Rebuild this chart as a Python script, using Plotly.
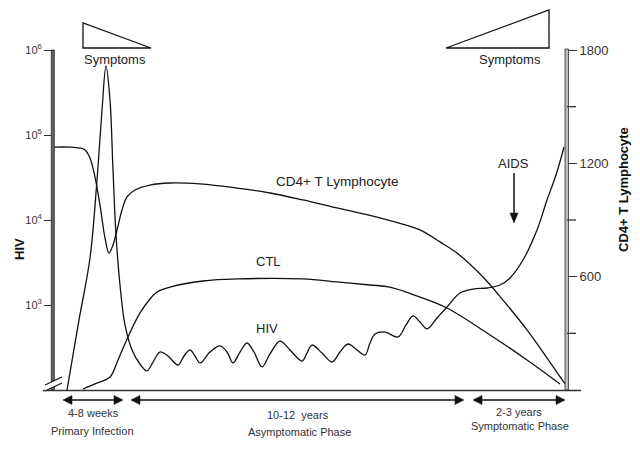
import plotly.graph_objects as go

# ---------------- data (time in arbitrary units) ----------------
hiv_time = [14, 26, 37, 44, 49, 53, 57, 60, 63, 67, 72, 79, 87, 94, 100, 107, 115, 125, 131, 137,
            142, 147, 157, 167, 174, 180, 187, 194, 201, 209, 217, 227, 237, 249, 254, 259, 269, 279,
            287, 295, 304, 312, 317, 322, 332, 345, 353, 360, 367, 374, 384, 394, 407, 420, 434, 447,
            457, 470, 484, 494, 503, 511]
hiv_log10 = [2.00, 2.824, 3.553, 4.471, 5.294, 5.812, 5.412, 4.588, 3.824, 3.235,
             2.765, 2.471, 2.306, 2.224, 2.329, 2.447, 2.400, 2.294, 2.400, 2.471,
             2.400, 2.318, 2.447, 2.518, 2.447, 2.318, 2.447, 2.553, 2.447, 2.271,
             2.424, 2.576, 2.471, 2.341, 2.435, 2.529, 2.435, 2.329, 2.447, 2.541,
             2.471, 2.412, 2.553, 2.659, 2.682, 2.624, 2.765, 2.871, 2.800, 2.718,
             2.847, 2.976, 3.141, 3.188, 3.200, 3.235, 3.318, 3.529, 3.882, 4.235,
             4.529, 4.859]

cd4_time = [1, 17, 27, 32, 37, 42, 47, 52, 56, 60, 64, 69, 74, 82, 97, 117, 147, 184, 217, 250,
            287, 317, 337, 367, 387, 404, 430, 450, 474, 492, 512]
cd4_count = [1286, 1286, 1281, 1271, 1228, 1127, 979, 805, 725, 768, 847, 953, 1022, 1059, 1085,
             1096, 1091, 1069, 1043, 1006, 960, 925, 897, 848, 784, 725, 598, 476, 318, 185, 32]

ctl_time = [30, 42, 57, 65, 75, 87, 97, 104, 117, 150, 184, 250, 284, 317, 337, 367, 394, 434, 474, 507]
ctl_level = [5, 32, 69, 159, 281, 408, 482, 519, 545, 577, 588, 588, 572, 556, 545, 492, 434, 302, 159, 32]

hiv_ticks = [1e3, 1e4, 1e5, 1e6]
hiv_ticktext = ["10<sup>3</sup>", "10<sup>4</sup>", "10<sup>5</sup>", "10<sup>6</sup>"]
cd4_ticks = [600, 1200, 1800]
cd4_minor_ticks = [300, 900, 1500]

FONT = "Liberation Sans, Arial, sans-serif"
LINE = dict(color="#111111", width=1.3, shape="spline", smoothing=1.0)

# ---------------- layout helpers (pixel -> paper) ----------------
L, R, T, B = 53, 567, 50, 390
def xp(px):
    return (px - L) / (R - L)
def yp(py):
    return (B - py) / (B - T)

fig = go.Figure()
fig.add_trace(go.Scatter(x=hiv_time, y=[10 ** v for v in hiv_log10], mode="lines",
                         line=LINE, yaxis="y", name="HIV", hoverinfo="skip"))
fig.add_trace(go.Scatter(x=cd4_time, y=cd4_count, mode="lines", line=LINE,
                         yaxis="y2", name="CD4+ T Lymphocyte", hoverinfo="skip"))
fig.add_trace(go.Scatter(x=ctl_time, y=ctl_level, mode="lines", line=LINE,
                         yaxis="y2", name="CTL", hoverinfo="skip"))

shapes = []
def pline(x0, y0, x1, y1, color="#111111", width=1.3):
    shapes.append(dict(type="line", xref="paper", yref="paper", x0=xp(x0), x1=xp(x1),
                       y0=yp(y0), y1=yp(y1), line=dict(color=color, width=width)))
def ppath(pts, fill=None, color="#111111", width=1.3):
    d = "M" + " L".join(f"{xp(a)},{yp(b)}" for a, b in pts) + " Z"
    s = dict(type="path", xref="paper", yref="paper", path=d,
             line=dict(color=color, width=width))
    if fill:
        s["fillcolor"] = fill
    shapes.append(s)

# left axis bar
shapes.append(dict(type="rect", xref="paper", yref="paper", x0=xp(51.3), x1=xp(54.3),
                   y0=yp(390), y1=yp(50), fillcolor="#666666", line=dict(color="#222222", width=0.8)))
# right axis bar
shapes.append(dict(type="rect", xref="paper", yref="paper", x0=xp(565), x1=xp(568.5),
                   y0=yp(390), y1=yp(49), fillcolor="#bbbbbb", line=dict(color="#333333", width=0.8)))
# minor ticks on the right axis (unlabelled)
for v in cd4_minor_ticks:
    pyv = B - v * (B - T) / 1800
    pline(567, pyv, 576, pyv, "#333333", 1.3)
# bottom line
pline(43, 390.5, 581, 390.5, "#333333", 1.5)
# axis break
ppath([(45, 385), (62, 377), (62, 383), (45, 391)], fill="white", width=0)
pline(45, 385, 62, 377, width=1.2)
pline(45, 391, 62, 383, width=1.2)
# symptom triangles
ppath([(83, 23), (83, 48), (151, 48)])
ppath([(446, 48), (549, 10), (549, 48)])

# double-headed phase arrows
def darrow(x0, x1, py, hl=9, hw=4.5):
    pline(x0 + hl - 1, py, x1 - hl + 1, py, width=1.5)
    ppath([(x0, py), (x0 + hl, py - hw), (x0 + hl, py + hw)], fill="#111111", width=0.5)
    ppath([(x1, py), (x1 - hl, py - hw), (x1 - hl, py + hw)], fill="#111111", width=0.5)

darrow(63, 123, 400)
darrow(131, 464, 400)
darrow(473, 565, 400)
# AIDS arrow
pline(514, 173, 514, 214, width=1.5)
ppath([(514, 223), (510, 213), (518, 213)], fill="#111111", width=0.5)

ann = []
def label(text, px, py, size=13, bold=False, angle=0, color="#222222"):
    ann.append(dict(text=f"<b>{text}</b>" if bold else text, x=xp(px), y=yp(py),
                    xref="paper", yref="paper", showarrow=False, xanchor="center",
                    yanchor="middle", textangle=angle,
                    font=dict(family=FONT, size=size, color=color)))

label("Symptoms", 114.5, 59, 13)
label("Symptoms", 510, 59, 13)
label("CD4+ T Lymphocyte", 337, 182, 13.5)
label("CTL", 268, 261, 13)
label("HIV", 267, 328, 13)
label("AIDS", 513, 163, 13)
label("4-8 weeks", 93, 413, 11, color="#333333")
label("Primary Infection", 92, 431, 11, color="#333333")
label("10-12\u00a0 years", 298, 415, 11, color="#333333")
label("Asymptomatic Phase", 299, 432, 11, color="#333333")
label("2-3 years", 519, 412, 11, color="#333333")
label("Symptomatic Phase", 520, 426, 11, color="#333333")
label("HIV", 20, 249, 13, bold=True, angle=-90, color="#111111")
label("CD4+ T Lymphocyte", 623, 190, 13, bold=True, angle=-90, color="#111111")

fig.update_layout(
    width=640, height=449,
    margin=dict(l=L, r=640 - R, t=T, b=449 - B, pad=0),
    paper_bgcolor="white", plot_bgcolor="white",
    showlegend=False,
    font=dict(family=FONT, color="#333333"),
    xaxis=dict(range=[0, R - L], visible=False, fixedrange=True),
    yaxis=dict(type="log", range=[2, 6], tickvals=hiv_ticks, ticktext=hiv_ticktext,
               ticks="outside", ticklen=8, tickwidth=1.3, tickcolor="#333333",
               showgrid=False, zeroline=False, showline=False, fixedrange=True,
               tickfont=dict(family=FONT, size=11, color="#333333")),
    yaxis2=dict(range=[0, 1800], overlaying="y", side="right", anchor="x",
                tickvals=cd4_ticks,
                ticks="outside", ticklen=9, tickwidth=1.3, tickcolor="#333333",
                showgrid=False, zeroline=False, showline=False, fixedrange=True,
                tickfont=dict(family=FONT, size=13, color="#333333")),
    shapes=shapes, annotations=ann,
)

fig.write_html("out.html", config={"displayModeBar": False},
               post_script="document.body.style.margin='0';")
